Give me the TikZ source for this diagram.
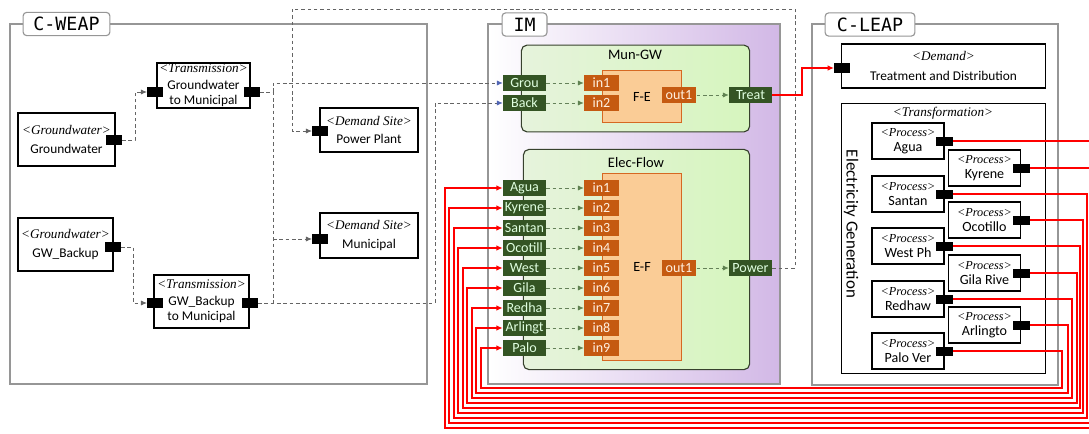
\documentclass[tikz,border=0pt]{standalone}
\usepackage{fontspec}
\setmainfont{Carlito}
\newfontfamily\tagfont{DejaVu Sans Mono}
\newfontfamily\stereofont{Liberation Serif}
\usetikzlibrary{arrows.meta,positioning}

\definecolor{framegray}{RGB}{150,150,150}
\definecolor{darkgreen}{RGB}{52,84,36}
\definecolor{portorange}{RGB}{197,90,17}
\definecolor{peach}{RGB}{250,204,150}
\definecolor{peachline}{RGB}{214,104,34}
\definecolor{paleleaf}{RGB}{230,243,220}
\definecolor{leaf}{RGB}{214,245,190}
\definecolor{lilac}{RGB}{210,184,230}
\definecolor{linkblue}{RGB}{80,100,180}
\definecolor{dashgray}{RGB}{100,100,100}
\definecolor{dashgreen}{RGB}{95,130,80}
\definecolor{contline}{RGB}{55,65,45}

\newcommand{\stereo}[2][9.4]{{\stereofont\itshape\fontsize{#1}{#1}\selectfont <#2>}}

\begin{document}
\begin{tikzpicture}[x=0.025cm,y=-0.025cm,
  font=\fontsize{9.5}{11}\selectfont,
  zone/.style={draw=framegray,line width=1pt},
  tagbox/.style={draw=framegray,fill=white,rounded corners=2.5pt,line width=0.8pt,
                 font=\tagfont\fontsize{13}{13}\selectfont,minimum height=16.5pt,inner sep=0pt},
  elem/.style={draw,line width=1pt,fill=white,align=center,inner sep=0pt},
  plug/.style={fill=black,minimum width=11pt,minimum height=7.5pt,inner sep=0pt},
  cont/.style={draw=contline,line width=0.8pt,rounded corners=4pt,left color=paleleaf,right color=leaf},
  block/.style={draw=peachline,fill=peach,line width=0.8pt,inner sep=0pt,font=\fontsize{10}{10}\selectfont},
  boxtitle/.style={font=\fontsize{10.3}{11}\selectfont},
  gport/.style={fill=darkgreen,text=white!88!green,minimum width=30.5pt,minimum height=11.3pt,
                inner sep=0pt,font=\fontsize{10}{10}\selectfont},
  oport/.style={fill=portorange,text=orange!12,minimum width=24.8pt,minimum height=11.3pt,
                inner sep=0pt,font=\fontsize{10}{10}\selectfont},
  proc/.style={draw,line width=1pt,fill=white,align=center,minimum width=51pt,minimum height=25.5pt,
               inner sep=0pt,font=\fontsize{10}{10.5}\selectfont},
  wline/.style={draw=dashgray,line width=0.6pt,dash pattern=on 2.5pt off 2pt},
  wflow/.style={wline,-{Latex[length=1.5mm,width=1.3mm]}},
  bflow/.style={wline,-{Latex[length=1.5mm,width=1.3mm,color=linkblue]}},
  iflow/.style={draw=dashgreen!80!gray,line width=0.6pt,dash pattern=on 2.5pt off 2pt,
                -{Latex[length=1.5mm,width=1.3mm,color=dashgreen]}},
  elink/.style={draw=red,line width=1pt,-{Latex[length=1.6mm,width=1.4mm]}}
]
\useasboundingbox (0,0) rectangle (1089,433);
\draw[zone] (10,24) rectangle (427,384);
\shade[left color=white,right color=lilac] (488,24) rectangle (780,384);
\draw[zone] (488,24) rectangle (780,384);
\draw[zone] (812,24) rectangle (1058,385);
\node[tagbox,minimum width=61.7pt] (weap) at (66.5,24) {C-WEAP};
\node[tagbox,minimum width=31.9pt] (im) at (524.5,24.5) {IM};
\node[tagbox,minimum width=63.8pt] (leap) at (870,24.5) {C-LEAP};

% C-WEAP
\node[elem,minimum width=68.7pt,minimum height=37.6pt] (gw) at (66.5,139.5)
  {\stereo{Groundwater}\\[3pt]Groundwater};
\node[plug] (gw-out) at (114,140) {};
\node[elem,minimum width=65.9pt,minimum height=31.9pt] (gwt) at (203.5,85.5)
  {\stereo{Transmission}\\[1pt]Groundwater\\to Municipal};
\node[plug] (gwt-in) at (155,92) {};
\node[plug] (gwt-out) at (252,92) {};
\node[elem,minimum width=67.3pt,minimum height=37.6pt] (bk) at (65.5,244.5)
  {\stereo{Groundwater}\\[3pt]GW\_Backup};
\node[plug] (bk-out) at (113,247) {};
\node[elem,minimum width=67.3pt,minimum height=37.6pt] (bkt) at (201.5,301.5)
  {\stereo{Transmission}\\[1pt]GW\_Backup\\to Municipal};
\node[plug] (bkt-in) at (155,303) {};
\node[plug] (bkt-out) at (250,303) {};
\node[elem,minimum width=69.5pt,minimum height=31.2pt] (pp) at (369,130)
  {\stereo{Demand Site}\\[2pt]Power Plant};
\node[plug] (pp-in) at (320,131) {};
\node[elem,minimum width=69.5pt,minimum height=31.9pt] (mu) at (369,235.5)
  {\stereo{Demand Site}\\[2pt]Municipal};
\node[plug] (mu-in) at (320,239) {};

% IM
\node[cont,minimum width=162.3pt,minimum height=61.7pt] (mungw) at (635.5,88.5) {};
\node[boxtitle] at (635,55) {Mun-GW};
\node[block,minimum width=56.7pt,minimum height=37.6pt] (fe) at (642,96.5) {F-E};
\node[oport] (fe-in1) at (601.5,83) {in1};
\node[oport] (fe-in2) at (601.5,103) {in2};
\node[oport] (fe-out) at (679,95) {out1};
\node[gport] (grou) at (524.5,83) {Grou};
\node[gport] (back) at (524.5,103) {Back};
\node[gport] (treat) at (750.5,95) {Treat};
\draw[iflow] (grou) -- (fe-in1);
\draw[iflow] (back) -- (fe-in2);
\draw[iflow] (fe-out) -- (treat);

\node[cont,minimum width=160.9pt,minimum height=156.6pt] (elec) at (636.5,259.5) {};
\node[boxtitle] at (636,163) {Elec-Flow};
\node[block,minimum width=56.7pt,minimum height=133.2pt] (ef) at (642,267) {E-F};
\foreach \s/\lb [count=\i] in {agua/Agua,kyrene/Kyrene,santan/Santan,ocotillo/Ocotill,
    westph/West,gila/Gila,redhaw/Redha,arlingto/Arlingt,palo/Palo}{
  \node[gport] (\s-in) at (524.5,{168+20*\i}) {\lb};
  \node[oport] (ef-in\i) at (601.5,{168+20*\i}) {in\i};
  \draw[iflow] (\s-in) -- (ef-in\i);
}
\node[oport] (ef-out) at (679,268) {out1};
\node[gport] (power) at (750.5,268) {Power};
\draw[iflow] (ef-out) -- (power);

% C-LEAP
\node[elem,minimum width=145.3pt,minimum height=31.2pt] (td) at (943.5,66)
  {\stereo{Demand}\\[3pt]Treatment and Distribution};
\node[plug] (td-in) at (842,68) {};
\node[elem,minimum width=145.3pt,minimum height=192pt] (tf) at (943.5,238.5) {};
\node at (943,113) {\stereo{Transformation}};
\node[rotate=-90,font=\fontsize{12}{12}\selectfont] at (851,224) {Electricity Generation};
\foreach \s/\lb/\px/\py in {agua/Agua/908/141,kyrene/Kyrene/984.5/168,santan/Santan/908/194,
    ocotillo/Ocotillo/984.5/220,westph/West Ph/908/246,gila/Gila Rive/984.5/273,
    redhaw/Redhaw/908/299,arlingto/Arlingto/984.5/325,palo/Palo Ver/908/351}{
  \node[proc] (\s) at (\px,\py) {\stereo[8.7]{Process}\\\lb};
  \node[plug,minimum width=12pt,minimum height=6.4pt] (\s-out) at (\s.east) {};
}

% links
\draw[wflow] (gw-out.east) -| (gwt-in.west -| 135,0) -- (gwt-in.west);
\draw[wflow] (bk-out.east) -| (bkt-in.west -| 133,0) -- (bkt-in.west);
\coordinate (gwj) at (273,92);
\coordinate (bkj) at (273,303);
\draw[wline] (gwt-out.east) -- (gwj) -- (bkj);
\draw[wflow] (gwj |- mu-in.west) -- (mu-in.west);
\draw[bflow] (gwj) |- (grou.west);
\draw[bflow] (bkt-out.east) -| (back.west -| 435,0) -- (back.west);
\draw[wflow] (power.east) -| (795,9) -| (pp-in.west -| 292,0) -- (pp-in.west);
\coordinate (tbend) at (802,68);
\draw[elink] (treat.east) -| (tbend) -- (td-in.west);
\foreach \s/\xr/\yb/\xl in {agua/1096/428/445,kyrene/1092/423/449,santan/1087/418/454,
    ocotillo/1083/413/458,westph/1080/408/463,gila/1077/403/467,redhaw/1072/398/472,
    arlingto/1068/393/476,palo/1062/388/481}
  \draw[elink] (\s-out.east) -| (\xr,\yb) -| (\s-in.west -| \xl,0) -- (\s-in.west);
\end{tikzpicture}
\end{document}
